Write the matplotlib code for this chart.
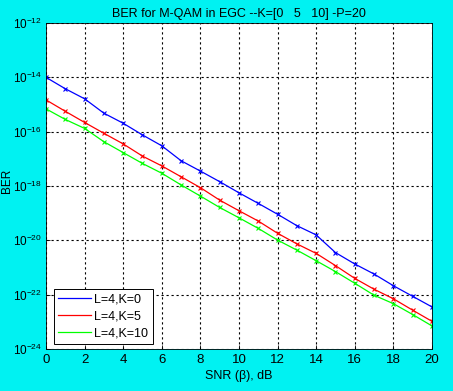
import numpy as np
import matplotlib.pyplot as plt
from matplotlib.ticker import FixedLocator, NullLocator

plt.rcParams['font.family'] = ['Liberation Sans Narrow', 'Liberation Sans', 'DejaVu Sans']

# SNR axis and BER values (stored as log10 of BER)
snr_db = list(range(0, 21))
ber_log_k0 = [-14.00, -14.42, -14.79, -15.32, -15.69, -16.12, -16.52, -17.07, -17.45, -17.84, -18.25,
              -18.64, -19.04, -19.46, -19.80, -20.45, -20.87, -21.24, -21.67, -22.06, -22.45]
ber_log_k5 = [-14.83, -15.25, -15.66, -16.06, -16.45, -16.90, -17.26, -17.66, -18.06, -18.52, -18.91,
              -19.29, -19.74, -20.13, -20.48, -20.93, -21.40, -21.80, -22.15, -22.57, -22.98]
ber_log_k10 = [-15.16, -15.55, -15.88, -16.37, -16.77, -17.17, -17.53, -17.96, -18.37, -18.79, -19.17,
               -19.56, -19.99, -20.36, -20.75, -21.15, -21.58, -22.02, -22.33, -22.73, -23.15]
labels = ['L=4,K=0', 'L=4,K=5', 'L=4,K=10']
colors = ['#0000ff', '#ff0000', '#00ff00']

bg = '#00f2f2'
fig = plt.figure(figsize=(4.53, 3.91), dpi=100, facecolor=bg)
ax = fig.add_axes([0.1015, 0.1074, 0.852, 0.8338])
ax.set_facecolor('white')

for vals, lab, col in zip([ber_log_k0, ber_log_k5, ber_log_k10], labels, colors):
    ber = 10.0 ** np.array(vals)
    ax.plot(snr_db, ber, color=col, lw=0.9, label=lab)
    ax.plot(snr_db, ber, ls='none', marker='x', ms=3.5, mew=0.8, color=col)

ax.set_yscale('log')
ax.set_xlim(0, 20)
ax.set_ylim(1e-24, 1e-12)
ax.set_xticks(range(0, 21, 2))
ax.yaxis.set_major_locator(FixedLocator([10.0 ** e for e in range(-24, -11, 2)]))
ax.yaxis.set_minor_locator(NullLocator())
ax.grid(True, color='black', ls=(0, (2, 2.5)), lw=0.8)
ax.tick_params(labelsize=9.5, direction='in', length=3, width=0.6)
ax.tick_params(axis='y', labelsize=8.5, pad=3)
for s in ax.spines.values():
    s.set_linewidth(0.6)

ax.set_title('BER for M-QAM in EGC --K=[0   5   10] -P=20', fontsize=9, pad=4)
ax.set_xlabel('SNR (\u03b2), dB', fontsize=9, labelpad=3)
ax.set_ylabel('BER', fontsize=8.5)
ax.yaxis.set_label_coords(-0.085, 0.515)

leg = ax.legend(loc='lower left', bbox_to_anchor=(0.02, 0.015), fontsize=9, frameon=True,
                fancybox=False, edgecolor='black', framealpha=1, handlelength=2.6,
                handletextpad=0.3, borderpad=0.35, labelspacing=0.4, borderaxespad=0)
leg.get_frame().set_linewidth(0.7)

fig.savefig('out.png', dpi=100, facecolor=bg)
